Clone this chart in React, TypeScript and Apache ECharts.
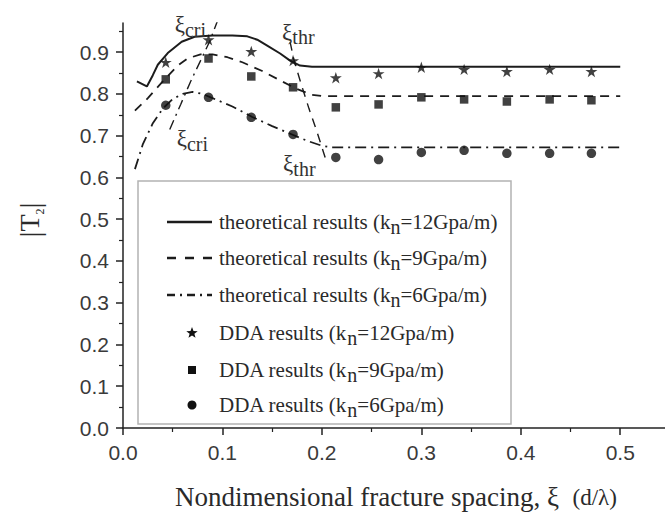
import React, { useEffect, useRef } from 'react';
import * as echarts from 'echarts';

// ---------- data ----------
const ddaX = [0.043, 0.086, 0.129, 0.171, 0.214, 0.257, 0.3, 0.343, 0.386, 0.429, 0.471];
const dda12 = [0.876, 0.93, 0.902, 0.88, 0.839, 0.849, 0.864, 0.859, 0.854, 0.859, 0.854];
const dda9 = [0.835, 0.885, 0.842, 0.816, 0.768, 0.775, 0.792, 0.787, 0.782, 0.787, 0.785];
const dda6 = [0.773, 0.792, 0.744, 0.703, 0.648, 0.643, 0.66, 0.665, 0.658, 0.658, 0.658];

const theo12X = [0.014, 0.024, 0.03, 0.035, 0.045, 0.059, 0.072, 0.09, 0.11, 0.125, 0.135, 0.145, 0.158, 0.168, 0.178, 0.19, 0.5];
const theo12Y = [0.83, 0.818, 0.845, 0.87, 0.898, 0.925, 0.937, 0.94, 0.94, 0.938, 0.93, 0.916, 0.897, 0.88, 0.868, 0.865, 0.865];

const theo9X = [0.012, 0.025, 0.04, 0.055, 0.065, 0.078, 0.09, 0.105, 0.12, 0.14, 0.16, 0.175, 0.19, 0.2, 0.5];
const theo9Y = [0.76, 0.79, 0.83, 0.868, 0.885, 0.895, 0.895, 0.888, 0.876, 0.855, 0.83, 0.812, 0.798, 0.795, 0.795];

const theo6X = [0.012, 0.02, 0.03, 0.04, 0.05, 0.06, 0.07, 0.08, 0.09, 0.11, 0.13, 0.15, 0.17, 0.185, 0.2, 0.21, 0.5];
const theo6Y = [0.62, 0.68, 0.73, 0.765, 0.788, 0.8, 0.805, 0.8, 0.79, 0.77, 0.745, 0.723, 0.703, 0.688, 0.676, 0.672, 0.672];

const criX = [0.047, 0.058, 0.068, 0.078, 0.087, 0.095];
const criY = [0.715, 0.775, 0.83, 0.88, 0.925, 0.975];
const thrX = [0.168, 0.172, 0.179, 0.187, 0.195, 0.205];
const thrY = [0.925, 0.88, 0.825, 0.765, 0.71, 0.635];

const xTicks = [0, 0.1, 0.2, 0.3, 0.4, 0.5];
const xMinor = [0.05, 0.15, 0.25, 0.35, 0.45];
const yTicks = [0, 0.1, 0.2, 0.3, 0.4, 0.5, 0.6, 0.7, 0.8, 0.9];
const yMinor = [0.05, 0.15, 0.25, 0.35, 0.45, 0.55, 0.65, 0.75, 0.85, 0.95];

const annotations = [
  { x: 0.052, y: 0.966, sub: 'cri' },
  { x: 0.054, y: 0.693, sub: 'cri' },
  { x: 0.16, y: 0.948, sub: 'thr' },
  { x: 0.161, y: 0.633, sub: 'thr' },
];

const legendRows = [
  { text: 'theoretical results (k', rest: '=12Gpa/m)', kind: 'solid' },
  { text: 'theoretical results (k', rest: '=9Gpa/m)', kind: 'dashed' },
  { text: 'theoretical results (k', rest: '=6Gpa/m)', kind: 'dashdot' },
  { text: 'DDA results (k', rest: '=12Gpa/m)', kind: 'star' },
  { text: 'DDA results (k', rest: '=9Gpa/m)', kind: 'square' },
  { text: 'DDA results (k', rest: '=6Gpa/m)', kind: 'circle' },
];

const SERIF = "'Liberation Serif', 'DejaVu Serif', serif";
const SANS = "'Liberation Sans', Arial, sans-serif";
const INK = '#1c1c1c';
const TXT = '#2a2a2a';
const DASH = [9, 7];
const DASHDOT = [11, 5, 2, 5];
const STAR = 'path://M50,0 L61.2,34.5 L97.6,34.5 L68.2,55.9 L79.4,90.5 L50,69.1 L20.6,90.5 L31.8,55.9 L2.4,34.5 L38.8,34.5 Z';

const zip = (xs: number[], ys: number[]) => xs.map((x, i) => [x, ys[i]]);

function starPoints(cx: number, cy: number, R: number, r: number) {
  const pts: number[][] = [];
  for (let i = 0; i < 10; i++) {
    const a = -Math.PI / 2 + (i * Math.PI) / 5;
    const rad = i % 2 === 0 ? R : r;
    pts.push([cx + rad * Math.cos(a), cy + rad * Math.sin(a)]);
  }
  return pts;
}

export default function App() {
  const ref = useRef<HTMLDivElement>(null);
  useEffect(() => {
    const chart = echarts.init(ref.current!, null, { renderer: 'svg' });
    const lineSeries = (name: string, data: number[][], type: any, width: number) => ({
      name,
      type: 'line',
      data,
      showSymbol: false,
      symbol: 'none',
      smooth: false,
      lineStyle: { color: INK, width, type },
      silent: true,
      z: 2,
    });
    const scatter = (name: string, data: number[][], symbol: string, size: number) => ({
      name,
      type: 'scatter',
      data,
      symbol,
      symbolSize: size,
      symbolKeepAspect: true,
      itemStyle: { color: '#111' },
      silent: true,
      z: 3,
    });
    chart.setOption({
      animation: false,
      backgroundColor: '#fff',
      grid: { left: 123, right: 0, top: 23, bottom: 88 },
      xAxis: [
        {
          type: 'value', min: 0, max: 0.545,
          axisLine: { show: true, lineStyle: { color: '#222', width: 1.5 } },
          axisTick: { show: true, customValues: xTicks, length: 7, lineStyle: { color: '#222', width: 1.5 } },
          axisLabel: { customValues: xTicks, formatter: (v: number) => v.toFixed(1), margin: 14, fontSize: 21, fontFamily: SANS, color: '#3a3a3a' },
          splitLine: { show: false },
        },
        {
          type: 'value', min: 0, max: 0.545, position: 'bottom',
          axisLine: { show: false },
          axisTick: { show: true, customValues: xMinor, length: 4, lineStyle: { color: '#222', width: 1.2 } },
          axisLabel: { show: false },
          splitLine: { show: false },
        },
      ],
      yAxis: [
        {
          type: 'value', min: 0, max: 0.97,
          axisLine: { show: true, lineStyle: { color: '#222', width: 1.5 } },
          axisTick: { show: true, customValues: yTicks, length: 7, lineStyle: { color: '#222', width: 1.5 } },
          axisLabel: { customValues: yTicks, formatter: (v: number) => v.toFixed(1), margin: 14, fontSize: 21, fontFamily: SANS, color: '#3a3a3a' },
          splitLine: { show: false },
        },
        {
          type: 'value', min: 0, max: 0.97, position: 'left',
          axisLine: { show: false },
          axisTick: { show: true, customValues: yMinor, length: 4, lineStyle: { color: '#222', width: 1.2 } },
          axisLabel: { show: false },
          splitLine: { show: false },
        },
      ],
      series: [
        lineSeries('theoretical 12', zip(theo12X, theo12Y), 'solid', 2),
        lineSeries('theoretical 9', zip(theo9X, theo9Y), DASH, 1.8),
        lineSeries('theoretical 6', zip(theo6X, theo6Y), DASHDOT, 1.8),
        lineSeries('xi cri', zip(criX, criY), [10, 5, 2, 5], 1.4),
        lineSeries('xi thr', zip(thrX, thrY), [9, 7], 1.4),
        scatter('DDA 12', zip(ddaX, dda12), STAR, 12),
        scatter('DDA 9', zip(ddaX, dda9), 'rect', 8.5),
        scatter('DDA 6', zip(ddaX, dda6), 'circle', 9.5),
      ],
    });

    const g: any[] = [];
    // annotations
    annotations.forEach((a) => {
      const p = chart.convertToPixel({ xAxisIndex: 0, yAxisIndex: 0 } as any, [a.x, a.y]) as number[];
      g.push({
        type: 'text', x: p[0], y: p[1], z: 10,
        style: {
          text: `{g|ξ}{s|${a.sub}}`,
          align: 'left', verticalAlign: 'middle', textAlign: 'left', textVerticalAlign: 'middle',
          rich: {
            g: { fontFamily: SERIF, fontSize: 23, lineHeight: 30, verticalAlign: 'middle', fill: '#333', color: '#333' },
            s: { fontFamily: SERIF, fontSize: 20, lineHeight: 17, verticalAlign: 'bottom', fill: '#333', color: '#333' },
          },
        },
      });
    });
    // legend box
    const L = 138, T = 181, R = 511, B = 424;
    g.push({ type: 'rect', shape: { x: L, y: T, width: R - L, height: B - T }, style: { fill: '#fff', stroke: '#b3b3b3', lineWidth: 1.5 }, z: 5 });
    const rowY = [222, 258, 295, 333, 370, 405];
    legendRows.forEach((row, i) => {
      const y = rowY[i];
      if (row.kind === 'solid' || row.kind === 'dashed' || row.kind === 'dashdot') {
        g.push({
          type: 'line', z: 6,
          shape: { x1: 167, y1: y, x2: 212, y2: y },
          style: {
            stroke: INK, lineWidth: row.kind === 'solid' ? 2.6 : 2.4,
            lineDash: row.kind === 'solid' ? null : row.kind === 'dashed' ? [9, 9] : [8, 5, 2, 5],
          },
        });
      } else if (row.kind === 'star') {
        g.push({ type: 'polygon', z: 6, shape: { points: starPoints(192, y, 6, 2.5) }, style: { fill: '#111' } });
      } else if (row.kind === 'square') {
        g.push({ type: 'rect', z: 6, shape: { x: 188, y: y - 4, width: 8, height: 8 }, style: { fill: '#111' } });
      } else {
        g.push({ type: 'circle', z: 6, shape: { cx: 192, cy: y, r: 4.5 }, style: { fill: '#111' } });
      }
      g.push({
        type: 'text', x: 219, y, z: 6,
        style: {
          text: `{a|${row.text}}{s|n}{a|${row.rest}}`,
          align: 'left', verticalAlign: 'middle', textAlign: 'left', textVerticalAlign: 'middle',
          rich: {
            a: { fontFamily: SERIF, fontSize: 21, lineHeight: 30, verticalAlign: 'middle', fill: TXT, color: TXT },
            s: { fontFamily: SERIF, fontSize: 20, lineHeight: 12, verticalAlign: 'bottom', fill: TXT, color: TXT },
          },
        },
      });
    });
    // axis titles
    g.push({
      type: 'text', x: 396, y: 497, z: 6,
      style: {
        text: '{a|Nondimensional fracture spacing, ξ  }{b|(d/λ)}',
        align: 'center', verticalAlign: 'middle', textAlign: 'center', textVerticalAlign: 'middle',
        rich: {
          a: { fontFamily: SERIF, fontSize: 27, fill: TXT, color: TXT },
          b: { fontFamily: SERIF, fontSize: 23, fill: TXT, color: TXT },
        },
      },
    });
    g.push({
      type: 'text', x: 29, y: 220, rotation: Math.PI / 2, z: 6,
      style: {
        text: '{b||}{t|T}{s|2}{b||}',
        align: 'center', verticalAlign: 'middle', textAlign: 'center', textVerticalAlign: 'middle',
        rich: {
          b: { fontFamily: SERIF, fontSize: 30, lineHeight: 34, verticalAlign: 'middle', fill: TXT, color: TXT },
          t: { fontFamily: SERIF, fontSize: 28, lineHeight: 34, verticalAlign: 'middle', fill: TXT, color: TXT },
          s: { fontFamily: SERIF, fontSize: 12, lineHeight: 14, verticalAlign: 'bottom', fill: TXT, color: TXT },
        },
      },
    });
    chart.setOption({ graphic: g });
    return () => chart.dispose();
  }, []);
  return <div ref={ref} style={{ position: 'fixed', left: 0, top: 0, width: 665, height: 516, background: '#fff' }} />;
}
